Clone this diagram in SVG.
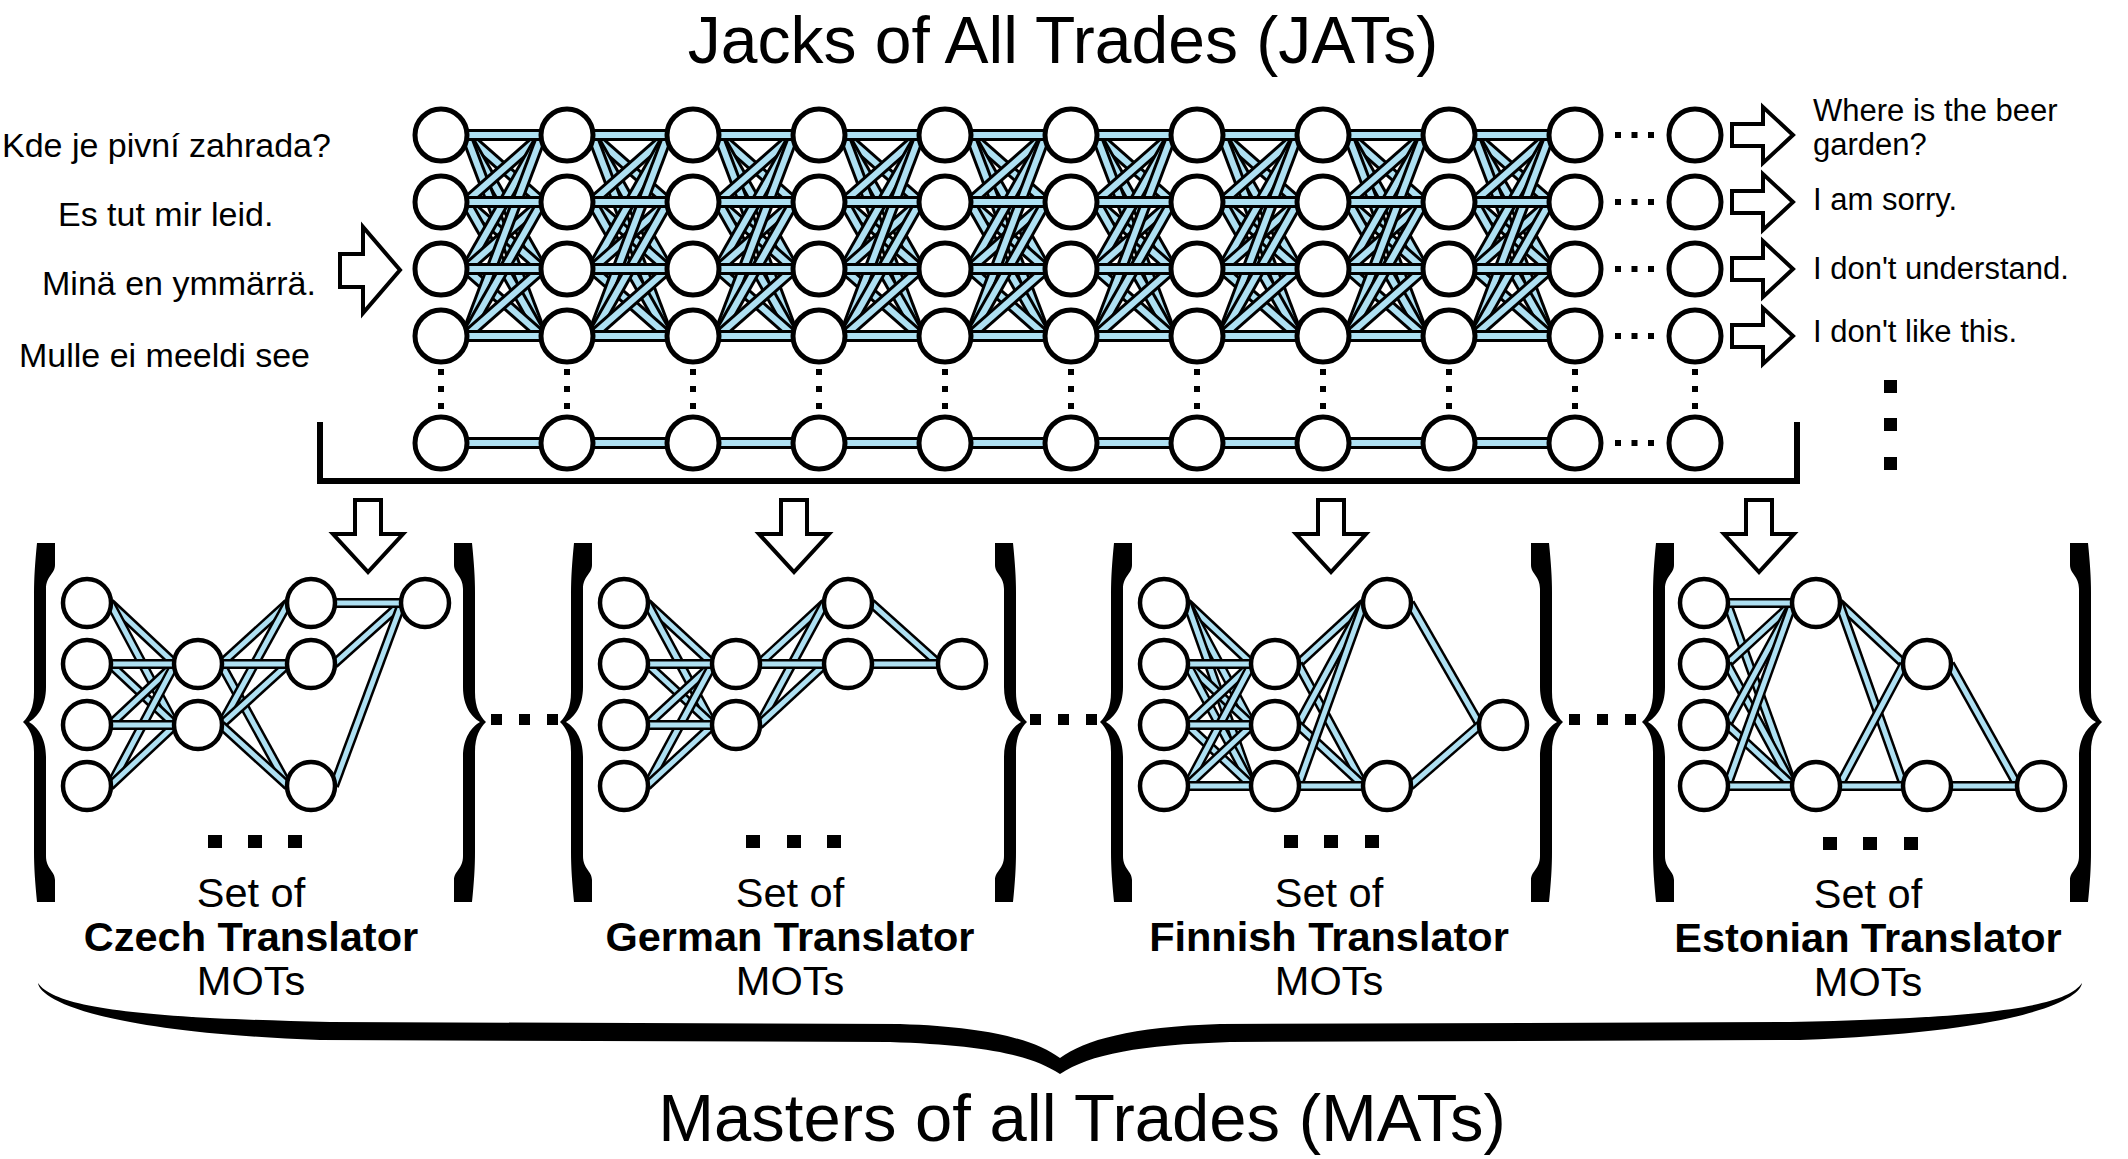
<svg xmlns="http://www.w3.org/2000/svg" width="2128" height="1159" viewBox="0 0 2128 1159">
<style>
text{font-family:"Liberation Sans",Arial,sans-serif;fill:#000}
.n{fill:#fff;stroke:#000;stroke-width:5}
.m{fill:#fff;stroke:#000;stroke-width:4.5}
.o{fill:none;stroke:#000;stroke-width:12}
.b{fill:none;stroke:#aee0f2;stroke-width:6}
.p{fill:none;stroke:#000;stroke-width:10}
.q{fill:none;stroke:#aee0f2;stroke-width:5}
.ar{fill:#fff;stroke:#000;stroke-width:4;stroke-linejoin:miter}
.dv{stroke:#000;stroke-width:6;stroke-dasharray:6 11}
.dh{stroke:#000;stroke-width:6;stroke-dasharray:6 10.5}
.sq{fill:#000}
</style>
<defs>
<g id="gap">
<path class="o" d="M25 135L101 202"/><path class="b" d="M25 135L101 202"/>
<path class="o" d="M25 135L101 269"/><path class="b" d="M25 135L101 269"/>
<path class="o" d="M25 135L101 336"/><path class="b" d="M25 135L101 336"/>
<path class="o" d="M25 202L101 135"/><path class="b" d="M25 202L101 135"/>
<path class="o" d="M25 202L101 269"/><path class="b" d="M25 202L101 269"/>
<path class="o" d="M25 202L101 336"/><path class="b" d="M25 202L101 336"/>
<path class="o" d="M25 269L101 135"/><path class="b" d="M25 269L101 135"/>
<path class="o" d="M25 269L101 202"/><path class="b" d="M25 269L101 202"/>
<path class="o" d="M25 269L101 336"/><path class="b" d="M25 269L101 336"/>
<path class="o" d="M25 336L101 135"/><path class="b" d="M25 336L101 135"/>
<path class="o" d="M25 336L101 202"/><path class="b" d="M25 336L101 202"/>
<path class="o" d="M25 336L101 269"/><path class="b" d="M25 336L101 269"/>
<path class="o" d="M0 135H126"/><path class="b" d="M0 135H126"/>
<path class="o" d="M0 202H126"/><path class="b" d="M0 202H126"/>
<path class="o" d="M0 269H126"/><path class="b" d="M0 269H126"/>
<path class="o" d="M0 336H126"/><path class="b" d="M0 336H126"/>
</g>
<path id="brace" d="M14,543 H32 V565 C32,574 23,576 23,589 V687 C23,707 14,717 6,722 C14,727 23,737 23,757 V856 C23,869 32,871 32,880 V902 H14 C12,882 11,867 11,852 V752 C11,736 6,728 0,722 C6,716 11,708 11,692 V593 C11,578 12,563 14,543 Z"/>
</defs>
<rect width="2128" height="1159" fill="#fff"/>

<text x="1063" y="63" font-size="66" text-anchor="middle">Jacks of All Trades (JATs)</text>
<text x="1082" y="1141" font-size="67" text-anchor="middle">Masters of all Trades (MATs)</text>

<g id="inputs" font-size="34">
<text x="2" y="157">Kde je pivní zahrada?</text>
<text x="58" y="226">Es tut mir leid.</text>
<text x="42" y="295">Minä en ymmärrä.</text>
<text x="19" y="367">Mulle ei meeldi see</text>
</g>
<g id="outputs" font-size="31">
<text x="1813" y="121">Where is the beer</text>
<text x="1813" y="155">garden?</text>
<text x="1813" y="210">I am sorry.</text>
<text x="1813" y="279">I don't understand.</text>
<text x="1813" y="342">I don't like this.</text>
</g>

<g id="connectors">
<use href="#gap" x="441"/><use href="#gap" x="567"/><use href="#gap" x="693"/>
<use href="#gap" x="819"/><use href="#gap" x="945"/><use href="#gap" x="1071"/>
<use href="#gap" x="1197"/><use href="#gap" x="1323"/><use href="#gap" x="1449"/>
<path class="o" d="M441 443H1575"/><path class="b" d="M441 443H1575"/>
<g id="dots-vertical">
<path class="dv" d="M441 369V413M567 369V413M693 369V413M819 369V413M945 369V413M1071 369V413M1197 369V413M1323 369V413M1449 369V413M1575 369V413M1695 369V413"/>
</g>
<g id="dots-horizontal">
<path class="dh" d="M1615 135H1654M1615 202H1654M1615 269H1654M1615 336H1654M1615 443H1654"/>
</g>
<path class="p" d="M110 603L175 664"/><path class="q" d="M110 603L175 664"/>
<path class="p" d="M110 603L175 725"/><path class="q" d="M110 603L175 725"/>
<path class="p" d="M110 664L175 725"/><path class="q" d="M110 664L175 725"/>
<path class="p" d="M110 725L175 664"/><path class="q" d="M110 725L175 664"/>
<path class="p" d="M110 786L175 664"/><path class="q" d="M110 786L175 664"/>
<path class="p" d="M110 786L175 725"/><path class="q" d="M110 786L175 725"/>
<path class="p" d="M87 664H198"/><path class="q" d="M87 664H198"/>
<path class="p" d="M87 725H198"/><path class="q" d="M87 725H198"/>
<path class="p" d="M221 664L288 603"/><path class="q" d="M221 664L288 603"/>
<path class="p" d="M221 664L288 786"/><path class="q" d="M221 664L288 786"/>
<path class="p" d="M221 725L288 603"/><path class="q" d="M221 725L288 603"/>
<path class="p" d="M221 725L288 664"/><path class="q" d="M221 725L288 664"/>
<path class="p" d="M221 725L288 786"/><path class="q" d="M221 725L288 786"/>
<path class="p" d="M198 664H311"/><path class="q" d="M198 664H311"/>
<path class="p" d="M334 664L402 603"/><path class="q" d="M334 664L402 603"/>
<path class="p" d="M334 786L402 603"/><path class="q" d="M334 786L402 603"/>
<path class="p" d="M311 603H425"/><path class="q" d="M311 603H425"/>

<path class="p" d="M647 603L713 664"/><path class="q" d="M647 603L713 664"/>
<path class="p" d="M647 603L713 725"/><path class="q" d="M647 603L713 725"/>
<path class="p" d="M647 664L713 725"/><path class="q" d="M647 664L713 725"/>
<path class="p" d="M647 725L713 664"/><path class="q" d="M647 725L713 664"/>
<path class="p" d="M647 786L713 664"/><path class="q" d="M647 786L713 664"/>
<path class="p" d="M647 786L713 725"/><path class="q" d="M647 786L713 725"/>
<path class="p" d="M624 664H736"/><path class="q" d="M624 664H736"/>
<path class="p" d="M624 725H736"/><path class="q" d="M624 725H736"/>
<path class="p" d="M759 664L825 603"/><path class="q" d="M759 664L825 603"/>
<path class="p" d="M759 725L825 603"/><path class="q" d="M759 725L825 603"/>
<path class="p" d="M759 725L825 664"/><path class="q" d="M759 725L825 664"/>
<path class="p" d="M736 664H848"/><path class="q" d="M736 664H848"/>
<path class="p" d="M871 603L939 664"/><path class="q" d="M871 603L939 664"/>
<path class="p" d="M848 664H962"/><path class="q" d="M848 664H962"/>

<path class="p" d="M1187 603L1252 664"/><path class="q" d="M1187 603L1252 664"/>
<path class="p" d="M1187 603L1252 725"/><path class="q" d="M1187 603L1252 725"/>
<path class="p" d="M1187 603L1252 786"/><path class="q" d="M1187 603L1252 786"/>
<path class="p" d="M1187 664L1252 725"/><path class="q" d="M1187 664L1252 725"/>
<path class="p" d="M1187 664L1252 786"/><path class="q" d="M1187 664L1252 786"/>
<path class="p" d="M1187 725L1252 664"/><path class="q" d="M1187 725L1252 664"/>
<path class="p" d="M1187 725L1252 786"/><path class="q" d="M1187 725L1252 786"/>
<path class="p" d="M1187 786L1252 664"/><path class="q" d="M1187 786L1252 664"/>
<path class="p" d="M1187 786L1252 725"/><path class="q" d="M1187 786L1252 725"/>
<path class="p" d="M1164 664H1275"/><path class="q" d="M1164 664H1275"/>
<path class="p" d="M1164 725H1275"/><path class="q" d="M1164 725H1275"/>
<path class="p" d="M1164 786H1275"/><path class="q" d="M1164 786H1275"/>
<path class="p" d="M1298 664L1364 603"/><path class="q" d="M1298 664L1364 603"/>
<path class="p" d="M1298 664L1364 786"/><path class="q" d="M1298 664L1364 786"/>
<path class="p" d="M1298 725L1364 603"/><path class="q" d="M1298 725L1364 603"/>
<path class="p" d="M1298 725L1364 786"/><path class="q" d="M1298 725L1364 786"/>
<path class="p" d="M1298 786L1364 603"/><path class="q" d="M1298 786L1364 603"/>
<path class="p" d="M1275 786H1387"/><path class="q" d="M1275 786H1387"/>
<path class="p" d="M1410 603L1480 725"/><path class="q" d="M1410 603L1480 725"/>
<path class="p" d="M1410 786L1480 725"/><path class="q" d="M1410 786L1480 725"/>

<path class="p" d="M1727 603L1793 786"/><path class="q" d="M1727 603L1793 786"/>
<path class="p" d="M1727 664L1793 603"/><path class="q" d="M1727 664L1793 603"/>
<path class="p" d="M1727 664L1793 786"/><path class="q" d="M1727 664L1793 786"/>
<path class="p" d="M1727 725L1793 603"/><path class="q" d="M1727 725L1793 603"/>
<path class="p" d="M1727 725L1793 786"/><path class="q" d="M1727 725L1793 786"/>
<path class="p" d="M1727 786L1793 603"/><path class="q" d="M1727 786L1793 603"/>
<path class="p" d="M1704 603H1816"/><path class="q" d="M1704 603H1816"/>
<path class="p" d="M1704 786H1816"/><path class="q" d="M1704 786H1816"/>
<path class="p" d="M1839 603L1904 664"/><path class="q" d="M1839 603L1904 664"/>
<path class="p" d="M1839 603L1904 786"/><path class="q" d="M1839 603L1904 786"/>
<path class="p" d="M1839 786L1904 664"/><path class="q" d="M1839 786L1904 664"/>
<path class="p" d="M1816 786H1927"/><path class="q" d="M1816 786H1927"/>
<path class="p" d="M1950 664L2018 786"/><path class="q" d="M1950 664L2018 786"/>
<path class="p" d="M1927 786H2041"/><path class="q" d="M1927 786H2041"/>
</g>

<g id="jat-nodes">
<g id="j1-1"><circle class="n" cx="441" cy="135" r="26"/></g><g id="j1-2"><circle class="n" cx="441" cy="202" r="26"/></g><g id="j1-3"><circle class="n" cx="441" cy="269" r="26"/></g><g id="j1-4"><circle class="n" cx="441" cy="336" r="26"/></g><g id="j1-5"><circle class="n" cx="441" cy="443" r="26"/></g>
<g id="j2-1"><circle class="n" cx="567" cy="135" r="26"/></g><g id="j2-2"><circle class="n" cx="567" cy="202" r="26"/></g><g id="j2-3"><circle class="n" cx="567" cy="269" r="26"/></g><g id="j2-4"><circle class="n" cx="567" cy="336" r="26"/></g><g id="j2-5"><circle class="n" cx="567" cy="443" r="26"/></g>
<g id="j3-1"><circle class="n" cx="693" cy="135" r="26"/></g><g id="j3-2"><circle class="n" cx="693" cy="202" r="26"/></g><g id="j3-3"><circle class="n" cx="693" cy="269" r="26"/></g><g id="j3-4"><circle class="n" cx="693" cy="336" r="26"/></g><g id="j3-5"><circle class="n" cx="693" cy="443" r="26"/></g>
<g id="j4-1"><circle class="n" cx="819" cy="135" r="26"/></g><g id="j4-2"><circle class="n" cx="819" cy="202" r="26"/></g><g id="j4-3"><circle class="n" cx="819" cy="269" r="26"/></g><g id="j4-4"><circle class="n" cx="819" cy="336" r="26"/></g><g id="j4-5"><circle class="n" cx="819" cy="443" r="26"/></g>
<g id="j5-1"><circle class="n" cx="945" cy="135" r="26"/></g><g id="j5-2"><circle class="n" cx="945" cy="202" r="26"/></g><g id="j5-3"><circle class="n" cx="945" cy="269" r="26"/></g><g id="j5-4"><circle class="n" cx="945" cy="336" r="26"/></g><g id="j5-5"><circle class="n" cx="945" cy="443" r="26"/></g>
<g id="j6-1"><circle class="n" cx="1071" cy="135" r="26"/></g><g id="j6-2"><circle class="n" cx="1071" cy="202" r="26"/></g><g id="j6-3"><circle class="n" cx="1071" cy="269" r="26"/></g><g id="j6-4"><circle class="n" cx="1071" cy="336" r="26"/></g><g id="j6-5"><circle class="n" cx="1071" cy="443" r="26"/></g>
<g id="j7-1"><circle class="n" cx="1197" cy="135" r="26"/></g><g id="j7-2"><circle class="n" cx="1197" cy="202" r="26"/></g><g id="j7-3"><circle class="n" cx="1197" cy="269" r="26"/></g><g id="j7-4"><circle class="n" cx="1197" cy="336" r="26"/></g><g id="j7-5"><circle class="n" cx="1197" cy="443" r="26"/></g>
<g id="j8-1"><circle class="n" cx="1323" cy="135" r="26"/></g><g id="j8-2"><circle class="n" cx="1323" cy="202" r="26"/></g><g id="j8-3"><circle class="n" cx="1323" cy="269" r="26"/></g><g id="j8-4"><circle class="n" cx="1323" cy="336" r="26"/></g><g id="j8-5"><circle class="n" cx="1323" cy="443" r="26"/></g>
<g id="j9-1"><circle class="n" cx="1449" cy="135" r="26"/></g><g id="j9-2"><circle class="n" cx="1449" cy="202" r="26"/></g><g id="j9-3"><circle class="n" cx="1449" cy="269" r="26"/></g><g id="j9-4"><circle class="n" cx="1449" cy="336" r="26"/></g><g id="j9-5"><circle class="n" cx="1449" cy="443" r="26"/></g>
<g id="j10-1"><circle class="n" cx="1575" cy="135" r="26"/></g><g id="j10-2"><circle class="n" cx="1575" cy="202" r="26"/></g><g id="j10-3"><circle class="n" cx="1575" cy="269" r="26"/></g><g id="j10-4"><circle class="n" cx="1575" cy="336" r="26"/></g><g id="j10-5"><circle class="n" cx="1575" cy="443" r="26"/></g>
<g id="j11-1"><circle class="n" cx="1695" cy="135" r="26"/></g><g id="j11-2"><circle class="n" cx="1695" cy="202" r="26"/></g><g id="j11-3"><circle class="n" cx="1695" cy="269" r="26"/></g><g id="j11-4"><circle class="n" cx="1695" cy="336" r="26"/></g><g id="j11-5"><circle class="n" cx="1695" cy="443" r="26"/></g>
</g>

<g id="czech-nodes">
<g id="cz-a1"><circle class="m" cx="87" cy="603" r="24"/></g><g id="cz-a2"><circle class="m" cx="87" cy="664" r="24"/></g><g id="cz-a3"><circle class="m" cx="87" cy="725" r="24"/></g><g id="cz-a4"><circle class="m" cx="87" cy="786" r="24"/></g>
<g id="cz-b1"><circle class="m" cx="198" cy="664" r="24"/></g><g id="cz-b2"><circle class="m" cx="198" cy="725" r="24"/></g>
<g id="cz-c1"><circle class="m" cx="311" cy="603" r="24"/></g><g id="cz-c2"><circle class="m" cx="311" cy="664" r="24"/></g><g id="cz-c3"><circle class="m" cx="311" cy="786" r="24"/></g>
<g id="cz-d1"><circle class="m" cx="425" cy="603" r="24"/></g>
</g>
<g id="german-nodes">
<g id="de-a1"><circle class="m" cx="624" cy="603" r="24"/></g><g id="de-a2"><circle class="m" cx="624" cy="664" r="24"/></g><g id="de-a3"><circle class="m" cx="624" cy="725" r="24"/></g><g id="de-a4"><circle class="m" cx="624" cy="786" r="24"/></g>
<g id="de-b1"><circle class="m" cx="736" cy="664" r="24"/></g><g id="de-b2"><circle class="m" cx="736" cy="725" r="24"/></g>
<g id="de-c1"><circle class="m" cx="848" cy="603" r="24"/></g><g id="de-c2"><circle class="m" cx="848" cy="664" r="24"/></g>
<g id="de-d1"><circle class="m" cx="962" cy="664" r="24"/></g>
</g>
<g id="finnish-nodes">
<g id="fi-a1"><circle class="m" cx="1164" cy="603" r="24"/></g><g id="fi-a2"><circle class="m" cx="1164" cy="664" r="24"/></g><g id="fi-a3"><circle class="m" cx="1164" cy="725" r="24"/></g><g id="fi-a4"><circle class="m" cx="1164" cy="786" r="24"/></g>
<g id="fi-b1"><circle class="m" cx="1275" cy="664" r="24"/></g><g id="fi-b2"><circle class="m" cx="1275" cy="725" r="24"/></g><g id="fi-b3"><circle class="m" cx="1275" cy="786" r="24"/></g>
<g id="fi-c1"><circle class="m" cx="1387" cy="603" r="24"/></g><g id="fi-c2"><circle class="m" cx="1387" cy="786" r="24"/></g>
<g id="fi-d1"><circle class="m" cx="1503" cy="725" r="24"/></g>
</g>
<g id="estonian-nodes">
<g id="et-a1"><circle class="m" cx="1704" cy="603" r="24"/></g><g id="et-a2"><circle class="m" cx="1704" cy="664" r="24"/></g><g id="et-a3"><circle class="m" cx="1704" cy="725" r="24"/></g><g id="et-a4"><circle class="m" cx="1704" cy="786" r="24"/></g>
<g id="et-b1"><circle class="m" cx="1816" cy="603" r="24"/></g><g id="et-b2"><circle class="m" cx="1816" cy="786" r="24"/></g>
<g id="et-c1"><circle class="m" cx="1927" cy="664" r="24"/></g><g id="et-c2"><circle class="m" cx="1927" cy="786" r="24"/></g>
<g id="et-d1"><circle class="m" cx="2041" cy="786" r="24"/></g>
</g>

<g id="arrows">
<path class="ar" d="M340,254 H363 V227 L400,270 L363,313 V287 H340 Z"/>
<path class="ar" d="M1732,124 H1763 V107 L1793,135 L1763,163 V146 H1732 Z"/>
<path class="ar" d="M1732,191 H1763 V174 L1793,202 L1763,230 V213 H1732 Z"/>
<path class="ar" d="M1732,258 H1763 V241 L1793,269 L1763,297 V280 H1732 Z"/>
<path class="ar" d="M1732,325 H1763 V308 L1793,336 L1763,364 V347 H1732 Z"/>
<path class="ar" d="M355,500 H381 V534 H403 L368,572 L333,534 H355 Z"/>
<path class="ar" d="M781,500 H807 V534 H829 L794,572 L759,534 H781 Z"/>
<path class="ar" d="M1318,500 H1344 V534 H1366 L1331,572 L1296,534 H1318 Z"/>
<path class="ar" d="M1746,500 H1772 V534 H1794 L1759,572 L1724,534 H1746 Z"/>
</g>

<g id="bracket">
<path d="M320,422 V481 H1797 V422" fill="none" stroke="#000" stroke-width="6"/>
</g>
<g id="vdots" class="sq">
<rect x="1884" y="380" width="13" height="13"/><rect x="1884" y="418" width="13" height="13"/><rect x="1884" y="457" width="13" height="13"/>
</g>

<g id="braces" fill="#000">
<use href="#brace" x="23"/><use href="#brace" transform="translate(486,0) scale(-1,1)"/>
<use href="#brace" x="560"/><use href="#brace" transform="translate(1027,0) scale(-1,1)"/>
<use href="#brace" x="1100"/><use href="#brace" transform="translate(1563,0) scale(-1,1)"/>
<use href="#brace" x="1642"/><use href="#brace" transform="translate(2102,0) scale(-1,1)"/>
<path d="M38,983 C55,1008 140,1018 330,1022 L900,1024 C990,1027 1035,1040 1060,1058 C1085,1040 1130,1027 1220,1024 L1790,1022 C1980,1018 2065,1008 2082,983 C2080,1000 2020,1032 1800,1040 L1230,1042 C1140,1045 1090,1054 1060,1074 C1030,1054 980,1045 890,1042 L320,1040 C100,1032 40,1000 38,983 Z"/>
</g>

<g id="set-dots" class="sq">
<rect x="208" y="835" width="14" height="13"/><rect x="248" y="835" width="14" height="13"/><rect x="288" y="835" width="14" height="13"/>
<rect x="746" y="835" width="14" height="13"/><rect x="787" y="835" width="14" height="13"/><rect x="827" y="835" width="14" height="13"/>
<rect x="1284" y="835" width="14" height="13"/><rect x="1324" y="835" width="14" height="13"/><rect x="1365" y="835" width="14" height="13"/>
<rect x="1823" y="837" width="14" height="13"/><rect x="1863" y="837" width="14" height="13"/><rect x="1904" y="837" width="14" height="13"/>
<rect x="491" y="714" width="11" height="11"/><rect x="519" y="714" width="11" height="11"/><rect x="547" y="714" width="11" height="11"/>
<rect x="1030" y="714" width="11" height="11"/><rect x="1058" y="714" width="11" height="11"/><rect x="1086" y="714" width="11" height="11"/>
<rect x="1569" y="714" width="11" height="11"/><rect x="1597" y="714" width="11" height="11"/><rect x="1625" y="714" width="11" height="11"/>
</g>

<g id="labels" font-size="41.5" text-anchor="middle">
<text x="251" y="907">Set of</text><text x="251" y="951" font-weight="bold">Czech Translator</text><text x="251" y="995">MOTs</text>
<text x="790" y="907">Set of</text><text x="790" y="951" font-weight="bold">German Translator</text><text x="790" y="995">MOTs</text>
<text x="1329" y="907">Set of</text><text x="1329" y="951" font-weight="bold">Finnish Translator</text><text x="1329" y="995">MOTs</text>
<text x="1868" y="908">Set of</text><text x="1868" y="952" font-weight="bold">Estonian Translator</text><text x="1868" y="996">MOTs</text>
</g>
</svg>
